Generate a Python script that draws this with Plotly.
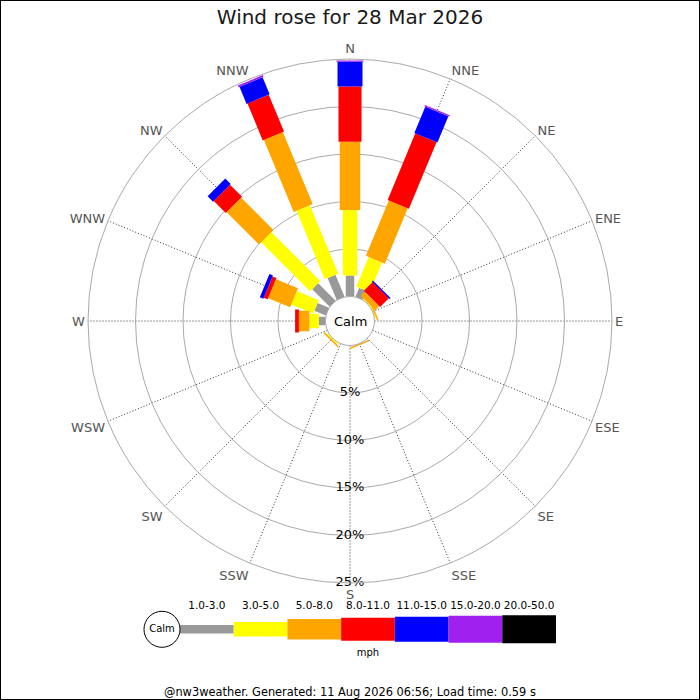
import plotly.graph_objects as go

# compass sectors, clockwise from north
DIRECTIONS = ["N", "NNE", "NE", "ENE", "E", "ESE", "SE", "SSE",
              "S", "SSW", "SW", "WSW", "W", "WNW", "NW", "NNW"]

# speed bins (mph) and the share of the day (%) in each sector
SPEED_BINS = ["1.0-3.0", "3.0-5.0", "5.0-8.0", "8.0-11.0",
              "11.0-15.0", "15.0-20.0", "20.0-50.0"]
PCT_1_3 = [2.2, 1.0, 0.0, 0.0, 0, 0, 0, 0.0, 0, 0, 0.0, 0, 0.7, 1.3, 2.6, 2.5]
PCT_3_5 = [6.9, 3.4, 0.1, 0.1, 0, 0, 0, 0.0, 0, 0, 0.15, 0, 1.0, 2.5, 7.3, 7.8]
PCT_5_8 = [7.2, 6.3, 0.6, 0.15, 0, 0, 0, 0.15, 0, 0, 0.15, 0, 1.1, 2.5, 4.8, 8.2]
PCT_8_11 = [5.8, 7.6, 1.3, 0, 0, 0, 0, 0, 0, 0, 0, 0, 0.4, 0.45, 1.8, 4.2]
PCT_11_15 = [2.6, 3.0, 0.15, 0, 0, 0, 0, 0, 0, 0, 0, 0, 0, 0.4, 0.8, 1.95]
PCT_15_20 = [0.15, 0.15, 0, 0, 0, 0, 0, 0, 0, 0, 0, 0, 0, 0, 0, 0.2]
PCT_20_50 = [0] * 16

RADIAL_TICKS = [5, 10, 15, 20, 25]

TITLE = "Wind rose for 28 Mar 2026"
FOOTER = "@nw3weather. Generated: 11 Aug 2026 06:56; Load time: 0.59 s"

# styling
BIN_COLORS = ["#999999", "#ffff00", "#ffa500", "#ff0000", "#0000ff", "#a020f0", "#000000"]
BIN_WIDTH_PX = [8.5, 14.5, 20.5, 23, 25, 27, 28]
FONT = "DejaVu Sans"

series = [PCT_1_3, PCT_3_5, PCT_5_8, PCT_8_11, PCT_11_15, PCT_15_20, PCT_20_50]

fig = go.Figure()

# stacked bars: each bin is a thick radial line segment (constant pixel width)
base = [0.0] * len(DIRECTIONS)
for i, values in enumerate(series):
    r, theta = [], []
    for j, d in enumerate(DIRECTIONS):
        if values[j] > 0:
            r += [base[j], base[j] + values[j], None]
            theta += [d, d, d]
        base[j] += values[j]
    if r:
        fig.add_trace(go.Scatterpolar(
            r=r, theta=theta, mode="lines", connectgaps=False,
            line=dict(color=BIN_COLORS[i], width=BIN_WIDTH_PX[i]),
            hoverinfo="skip", showlegend=False,
        ))

# percentage labels along the south spoke
fig.add_trace(go.Scatterpolar(
    r=RADIAL_TICKS, theta=["S"] * len(RADIAL_TICKS),
    text=[f"{t}%" for t in RADIAL_TICKS], mode="text",
    textposition="middle center",
    textfont=dict(family=FONT, size=13, color="#000000"),
    hoverinfo="skip", showlegend=False,
))

# custom speed legend on a hidden cartesian axis
for i, label in enumerate(SPEED_BINS):
    fig.add_trace(go.Scatter(
        x=[i, i + 1], y=[0, 0], mode="lines",
        line=dict(color=BIN_COLORS[i], width=BIN_WIDTH_PX[i]),
        xaxis="x", yaxis="y", hoverinfo="skip", showlegend=False,
    ))
fig.add_trace(go.Scatter(
    x=[i + 0.5 for i in range(len(SPEED_BINS))], y=[22.5] * len(SPEED_BINS),
    text=SPEED_BINS, mode="text",
    textfont=dict(family=FONT, size=10.5, color="#000000"),
    hoverinfo="skip", showlegend=False,
))
fig.add_trace(go.Scatter(
    x=[len(SPEED_BINS) / 2], y=[-24], text=["mph"], mode="text",
    textfont=dict(family=FONT, size=10, color="#000000"),
    hoverinfo="skip", showlegend=False,
))
fig.add_trace(go.Scatter(
    x=[-0.335], y=[0], text=["Calm"], mode="markers+text",
    textposition="middle center",
    marker=dict(size=36, color="#ffffff", line=dict(color="#000000", width=1)),
    textfont=dict(family=FONT, size=10, color="#000000"),
    hoverinfo="skip", showlegend=False,
))

fig.update_layout(
    width=700, height=700,
    margin=dict(l=0, r=0, t=0, b=0),
    paper_bgcolor="#ffffff",
    plot_bgcolor="#ffffff",
    font=dict(family=FONT, color="#000000"),
    title=dict(text=TITLE, x=0.5, y=1 - 17 / 700, xanchor="center", yanchor="middle",
               font=dict(family=FONT, size=20, color="#1a1a1a")),
    polar=dict(
        domain=dict(x=[88 / 700, 612 / 700], y=[1 - 583 / 700, 1 - 59 / 700]),
        hole=0.0935,
        bgcolor="#ffffff",
        angularaxis=dict(
            type="category", categoryarray=DIRECTIONS,
            direction="clockwise", rotation=90,
            showgrid=True, gridcolor="#333333", gridwidth=1, griddash="1px,2px",
            showline=True, linecolor="#aaaaaa", linewidth=1,
            ticks="", tickfont=dict(family=FONT, size=13, color="#555555"),
        ),
        radialaxis=dict(
            range=[0, 25], tickvals=[0] + RADIAL_TICKS,
            showticklabels=False, ticks="", showline=False,
            gridcolor="#aaaaaa", gridwidth=1, angle=270,
        ),
    ),
    xaxis=dict(domain=[139.7 / 700, 556 / 700], range=[-0.75, 7.0],
               visible=False, fixedrange=True),
    yaxis=dict(domain=[35 / 700, 105 / 700], range=[-35.7, 34.3],
               visible=False, fixedrange=True),
    annotations=[
        dict(text="Calm", x=0.5, y=1 - 321 / 700, xref="paper", yref="paper",
             xanchor="center", yanchor="middle", showarrow=False,
             font=dict(family=FONT, size=13, color="#000000")),
        dict(text=FOOTER, x=0.5, y=1 - 692 / 700, xref="paper", yref="paper",
             xanchor="center", yanchor="middle", showarrow=False,
             font=dict(family=FONT, size=11.4, color="#000000")),
    ],
    shapes=[
        dict(type="rect", xref="paper", yref="paper", x0=0, y0=0, x1=1, y1=1,
             line=dict(color="#000000", width=2)),
    ],
)

# drop the browser's default body margin so the figure sits at the page corner
fig.write_html("out.html", config={"displayModeBar": False},
               post_script="document.body.style.margin = '0';")
